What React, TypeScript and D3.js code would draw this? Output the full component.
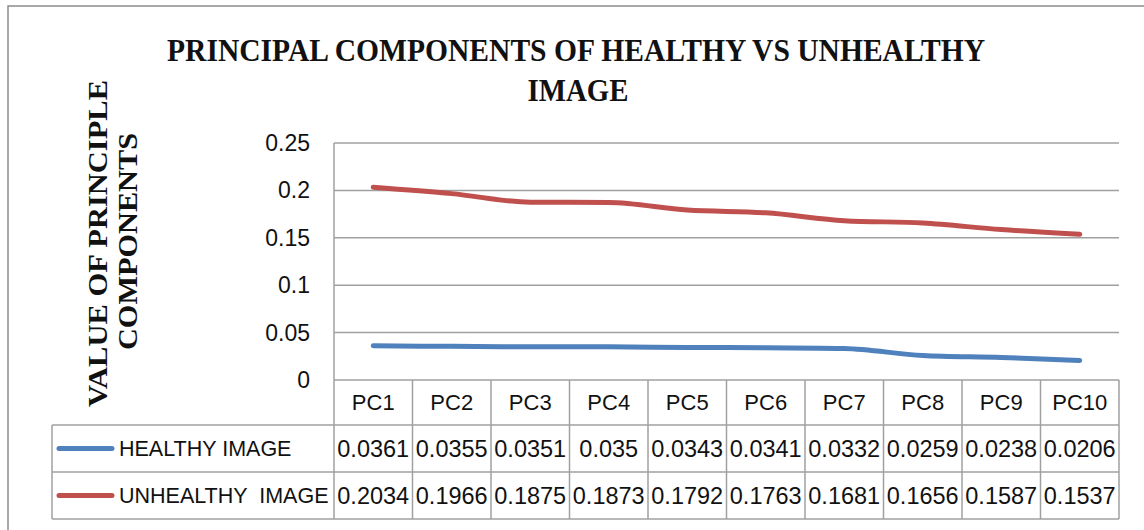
import React from 'react';
import * as d3 from 'd3';

// chart data
const components = ['PC1', 'PC2', 'PC3', 'PC4', 'PC5', 'PC6', 'PC7', 'PC8', 'PC9', 'PC10'];
const healthy = [0.0361, 0.0355, 0.0351, 0.035, 0.0343, 0.0341, 0.0332, 0.0259, 0.0238, 0.0206];
const unhealthy = [0.2034, 0.1966, 0.1875, 0.1873, 0.1792, 0.1763, 0.1681, 0.1656, 0.1587, 0.1537];
const yTicks = [0, 0.05, 0.1, 0.15, 0.2, 0.25];
const seriesNames = ['HEALTHY IMAGE', 'UNHEALTHY  IMAGE'];
const seriesColors = ['#4f81bd', '#c0504d'];

const W = 1144;
const H = 530;
const plot = { left: 334, right: 1119, top: 143, bottom: 380 };
const rowH = 47;
const tableLeft = 52;

const gridColor = '#a0a0a0';
const sans = '"Liberation Sans", Arial, sans-serif';
const serif = '"Liberation Serif", "Times New Roman", serif';

const App: React.FC = () => {
  const x = d3.scaleBand().domain(components).range([plot.left, plot.right]);
  const y = d3.scaleLinear().domain([0, 0.25]).range([plot.bottom, plot.top]);

  const line = d3.line<number>()
    .x((_, i) => (x(components[i]) ?? 0) + x.bandwidth() / 2)
    .y((d) => y(d))
    .curve(d3.curveMonotoneX);

  const series = [healthy, unhealthy];
  const headerBottom = plot.bottom + 45;
  const rowTops = [headerBottom, headerBottom + rowH];
  const tableBottom = headerBottom + rowH * 2;

  return (
    <svg width={W} height={H} style={{ position: 'absolute', left: 0, top: 0, background: '#fff' }}>
      {/* outer chart border */}
      <rect x={8} y={6} width={W} height={H} fill="#fff" stroke="#8c8c8c" strokeWidth={1.5} />

      {/* title */}
      <text x={576} y={61} textAnchor="middle" fontFamily={serif} fontWeight="bold" fontSize={31}
        textLength={818} lengthAdjust="spacingAndGlyphs" fill="#111">
        PRINCIPAL COMPONENTS OF HEALTHY VS UNHEALTHY
      </text>
      <text x={578} y={101} textAnchor="middle" fontFamily={serif} fontWeight="bold" fontSize={31}
        textLength={101} lengthAdjust="spacingAndGlyphs" fill="#111">
        IMAGE
      </text>

      {/* y axis title */}
      <text transform="translate(107,243.5) rotate(-90)" textAnchor="middle" fontFamily={serif}
        fontWeight="bold" fontSize={27} textLength={327} lengthAdjust="spacingAndGlyphs" fill="#111">
        VALUE OF PRINCIPLE
      </text>
      <text transform="translate(137,241.5) rotate(-90)" textAnchor="middle" fontFamily={serif}
        fontWeight="bold" fontSize={27} textLength={217} lengthAdjust="spacingAndGlyphs" fill="#111">
        COMPONENTS
      </text>

      {/* gridlines + tick labels */}
      {yTicks.map((t) => (
        <g key={t}>
          <line x1={plot.left} x2={plot.right} y1={y(t)} y2={y(t)} stroke={gridColor} strokeWidth={1.5} />
          <text x={310} y={y(t)} dy="0.35em" textAnchor="end" fontFamily={sans} fontSize={23} fill="#111">
            {d3.format('')(t)}
          </text>
        </g>
      ))}
      <line x1={plot.left} x2={plot.left} y1={plot.top} y2={tableBottom} stroke={gridColor} strokeWidth={1.5} />

      {/* series lines */}
      {series.map((s, i) => (
        <path key={i} d={line(s) ?? ''} fill="none" stroke={seriesColors[i]} strokeWidth={5} strokeLinecap="round" />
      ))}

      {/* data table */}
      {components.map((c) => {
        const cx = (x(c) ?? 0) + x.bandwidth() / 2;
        return (
          <g key={c}>
            <line x1={(x(c) ?? 0) + x.bandwidth()} x2={(x(c) ?? 0) + x.bandwidth()} y1={plot.bottom} y2={tableBottom}
              stroke={gridColor} strokeWidth={1.5} />
            <text x={cx} y={(plot.bottom + headerBottom) / 2} dy="0.35em" textAnchor="middle" fontFamily={sans}
              fontSize={22} fill="#111">{c}</text>
          </g>
        );
      })}
      {[headerBottom, headerBottom + rowH, tableBottom].map((ly, i) => (
        <line key={i} x1={tableLeft} x2={plot.right} y1={ly} y2={ly} stroke={gridColor} strokeWidth={1.5} />
      ))}
      <line x1={tableLeft} x2={tableLeft} y1={headerBottom} y2={tableBottom} stroke={gridColor} strokeWidth={1.5} />

      {series.map((s, i) => {
        const cy = rowTops[i] + rowH / 2;
        return (
          <g key={i}>
            <line x1={59} x2={112} y1={cy} y2={cy} stroke={seriesColors[i]} strokeWidth={5} strokeLinecap="round" />
            <text x={119} y={cy} dy="0.35em" fontFamily={sans} fontSize={21.5} fill="#111" style={{ whiteSpace: 'pre' }}>
              {seriesNames[i]}
            </text>
            {s.map((v, j) => (
              <text key={j} x={(x(components[j]) ?? 0) + x.bandwidth() / 2} y={cy} dy="0.35em" textAnchor="middle"
                fontFamily={sans} fontSize={23.5} fill="#111">
                {v}
              </text>
            ))}
          </g>
        );
      })}
    </svg>
  );
};

export default App;
